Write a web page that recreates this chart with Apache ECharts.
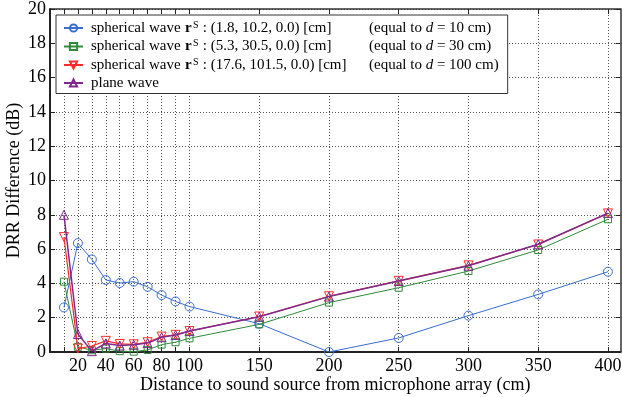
<!DOCTYPE html>
<html>
<head>
<meta charset="utf-8">
<script src="https://cdn.jsdelivr.net/npm/echarts@6/dist/echarts.min.js"></script>
<style>
  html, body { margin: 0; padding: 0; background: #fff; }
  #chart { width: 622px; height: 397px; }
</style>
</head>
<body>
<div id="chart"></div>
<script>
// Source distance (cm) for every measurement
const distances = [10, 20, 30, 40, 50, 60, 70, 80, 90, 100, 150, 200, 250, 300, 350, 400];

// DRR difference (dB) per model
const sph10 = [2.6, 6.35, 5.4, 4.2, 4.02, 4.1, 3.8, 3.32, 2.95, 2.65, 1.65, 0.0, 0.82, 2.12, 3.36, 4.68];
const sph30 = [4.1, 0.3, 0.1, 0.2, 0.05, 0.02, 0.12, 0.43, 0.57, 0.8, 1.61, 2.88, 3.75, 4.72, 5.95, 7.74];
const sph100 = [6.7, 0.2, 0.35, 0.65, 0.47, 0.45, 0.57, 0.9, 1.0, 1.22, 2.07, 3.25, 4.15, 5.05, 6.27, 8.08];
const plane = [8.0, 1.05, 0.05, 0.5, 0.38, 0.42, 0.52, 0.86, 0.99, 1.22, 2.05, 3.23, 4.14, 5.03, 6.28, 8.1];

// Axis ticks and labels
const xTickValues = [10, 20, 30, 40, 50, 60, 70, 80, 90, 100, 150, 200, 250, 300, 350, 400];
const xLabelValues = [20, 40, 60, 80, 100, 150, 200, 250, 300, 350, 400];
const seriesNames = ['sph10', 'sph30', 'sph100', 'plane'];

const legendText = {
  sph10: '{a|spherical wave}{b|r}{s|S}{c| : (1.8, 10.2, 0.0) [cm]}{e|(equal to }{i|d}{e| = 10 cm)}',
  sph30: '{a|spherical wave}{b|r}{s|S}{c| : (5.3, 30.5, 0.0) [cm]}{e|(equal to }{i|d}{e| = 30 cm)}',
  sph100: '{a|spherical wave}{b|r}{s|S}{c| : (17.6, 101.5, 0.0) [cm]}{e|(equal to }{i|d}{e| = 100 cm)}',
  plane: '{a|plane wave}'
};

const FONT = 'Liberation Serif';
const X_MAX = 409;

function pairs(ys) {
  return distances.map((d, i) => [d, ys[i]]);
}

function lineSeries(name, ys, color, symbol, size, rotate, width, z) {
  return {
    name: name,
    type: 'line',
    data: pairs(ys),
    symbol: symbol,
    symbolSize: size,
    symbolRotate: rotate,
    showSymbol: true,
    z: z,
    lineStyle: { color: color, width: width },
    itemStyle: { color: 'none', borderColor: color, borderWidth: 1 },
    emphasis: { disabled: true },
    animation: false
  };
}

const chart = echarts.init(document.getElementById('chart'), null, { renderer: 'canvas' });

const axisText = { fontFamily: FONT, fontSize: 18, color: '#000' };

chart.setOption({
  backgroundColor: '#fff',
  animation: false,
  grid: {
    left: 50, top: 9, width: 570.5, bottom: 397 - 352,
    containLabel: false,
    outerBoundsMode: 'none'
  },
  legend: {
    orient: 'vertical',
    left: 56,
    top: 15,
    data: seriesNames,
    itemWidth: 19,
    itemHeight: 9,
    itemGap: 3,
    padding: [5, 9, 3, 7],
    backgroundColor: '#fff',
    borderColor: '#333',
    borderWidth: 1,
    selectedMode: false,
    formatter: function (name) { return legendText[name]; },
    textStyle: {
      fontFamily: FONT,
      fontSize: 15,
      color: '#000',
      rich: {
        a: { fontFamily: FONT, fontSize: 15, lineHeight: 16, width: 94, padding: [0, 0, 0, 3] },
        b: { fontFamily: FONT, fontSize: 15, lineHeight: 16, fontWeight: 'bold', width: 8 },
        s: { fontFamily: FONT, fontSize: 10, lineHeight: 11, verticalAlign: 'top', width: 6 },
        c: { fontFamily: FONT, fontSize: 15, lineHeight: 16, width: 170 },
        e: { fontFamily: FONT, fontSize: 15, lineHeight: 16 },
        i: { fontFamily: FONT, fontSize: 15, lineHeight: 16, fontStyle: 'italic' }
      }
    }
  },
  xAxis: [
    {
      type: 'value',
      min: 0,
      max: X_MAX,
      position: 'bottom',
      name: 'Distance to sound source from microphone array (cm)',
      nameLocation: 'middle',
      nameGap: 24,
      nameMoveOverlap: false,
      nameTextStyle: axisText,
      axisLine: { onZero: false, lineStyle: { color: '#222', width: 2 } },
      axisTick: { inside: true, length: 5, customValues: xTickValues, lineStyle: { color: '#222', width: 1 } },
      axisLabel: { customValues: xLabelValues, margin: 5, fontFamily: FONT, fontSize: 18, color: '#000' },
      splitLine: { show: true, lineStyle: { color: '#555', width: 1, type: [1, 2] } }
    },
    {
      type: 'value',
      min: 0,
      max: X_MAX,
      position: 'top',
      axisLine: { onZero: false, lineStyle: { color: '#333', width: 1.5 } },
      axisTick: { inside: true, length: 5, customValues: xTickValues, lineStyle: { color: '#222', width: 1 } },
      axisLabel: { show: false },
      splitLine: { show: false }
    }
  ],
  yAxis: [
    {
      type: 'value',
      min: 0,
      max: 20,
      interval: 2,
      position: 'left',
      name: 'DRR Difference (dB)',
      nameLocation: 'middle',
      nameGap: 27,
      nameMoveOverlap: false,
      nameTextStyle: axisText,
      axisLine: { show: true, onZero: false, lineStyle: { color: '#222', width: 2 } },
      axisTick: { show: true, inside: true, length: 5, lineStyle: { color: '#222', width: 1 } },
      axisLabel: { margin: 4, fontFamily: FONT, fontSize: 18, color: '#000' },
      splitLine: { show: true, lineStyle: { color: '#555', width: 1, type: [1, 2] } }
    },
    {
      type: 'value',
      min: 0,
      max: 20,
      interval: 2,
      position: 'right',
      axisLine: { show: true, onZero: false, lineStyle: { color: '#333', width: 1.5 } },
      axisTick: { show: true, inside: true, length: 5, lineStyle: { color: '#222', width: 1 } },
      axisLabel: { show: false },
      splitLine: { show: false }
    }
  ],
  series: [
    lineSeries('sph10', sph10, '#3a6ccc', 'circle', 9, 0, 1, 2),
    lineSeries('sph30', sph30, '#2f8a3a', 'rect', 7, 0, 1, 3),
    lineSeries('sph100', sph100, '#ff2a2a', 'triangle', 9, 180, 1.2, 4),
    lineSeries('plane', plane, '#7e2a8c', 'triangle', 9, 0, 1.5, 5)
  ]
});
</script>
</body>
</html>
